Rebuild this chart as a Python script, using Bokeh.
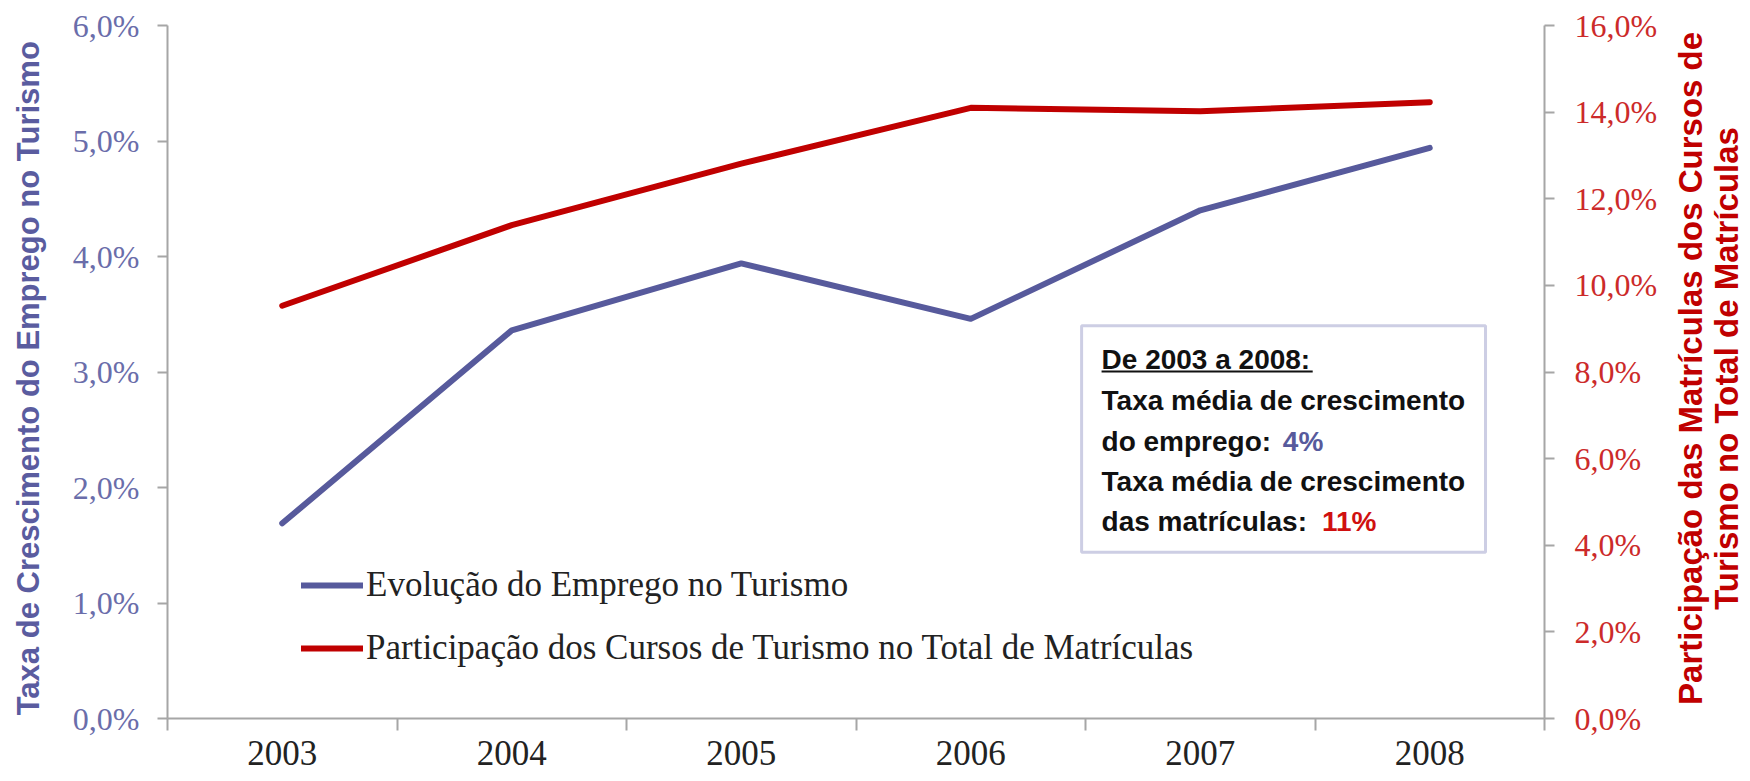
from bokeh.plotting import figure
from bokeh.layouts import row
from bokeh.models import (Range1d, LinearAxis, FixedTicker, Legend, LegendItem,
                          Label, BoxAnnotation, Arrow)
from bokeh.embed import file_html
from bokeh.resources import INLINE

# ---------------- data ----------------
years = ["2003", "2004", "2005", "2006", "2007", "2008"]
emprego = [1.69, 3.36, 3.94, 3.46, 4.40, 4.94]          # % (left axis)
matriculas = [9.53, 11.39, 12.81, 14.10, 14.02, 14.23]  # % (right axis)
left_ticks = [0, 1, 2, 3, 4, 5, 6]
left_labels = ["0,0%", "1,0%", "2,0%", "3,0%", "4,0%", "5,0%", "6,0%"]
right_ticks = [0, 2, 4, 6, 8, 10, 12, 14, 16]
right_labels = ["0,0%", "2,0%", "4,0%", "6,0%", "8,0%", "10,0%", "12,0%", "14,0%", "16,0%"]
legend_labels = ["Evolução do Emprego no Turismo",
                 "Participação dos Cursos de Turismo no Total de Matrículas"]
left_title = "Taxa de Crescimento do Emprego no Turismo"
right_title_lines = ["Participação das Matrículas dos Cursos de",
                     "Turismo no Total de Matrículas"]
box_title = "De 2003 a 2008:"
box_lines = ["Taxa média de crescimento", "do emprego: ", "Taxa média de crescimento",
             "das matrículas: "]
box_values = ["4%", "11%"]

BLUE = "#575A9C"
RED = "#C00000"
GRID = "#BFBFBF"
AXIS = "#A6A6A6"
H = 780

xpos = [i + 0.5 for i in range(len(years))]
bounds = list(range(len(years) + 1))


def side_panel(width):
    f = figure(width=width, height=H, output_backend="svg", toolbar_location=None,
               x_range=Range1d(0, width), y_range=Range1d(0, H),
               min_border=0, x_axis_type=None, y_axis_type=None)
    f.outline_line_color = None
    f.xgrid.grid_line_color = None
    f.ygrid.grid_line_color = None
    return f


# left title panel
p0 = side_panel(56)
p0.add_layout(Label(x=28, y=H - 397, text=left_title, text_font="Liberation Sans",
                    text_font_style="bold", text_font_size="31px",
                    text_color="#5A5C9F", angle=90, angle_units="deg",
                    text_align="center", text_baseline="middle"))

# main chart
p = figure(width=1604, height=H, output_backend="svg", toolbar_location=None,
           x_range=Range1d(0, len(years)), y_range=Range1d(0, 6),
           min_border_left=111, min_border_right=112, min_border_top=25,
           min_border_bottom=62, x_axis_type=None, y_axis_type=None)
p.outline_line_color = None
p.extra_y_ranges = {"right": Range1d(0, 16)}

# x axis
xaxis = LinearAxis(ticker=FixedTicker(ticks=xpos, minor_ticks=bounds),
                   major_label_overrides={xv: y for xv, y in zip(xpos, years)})
xaxis.major_tick_line_color = None
xaxis.minor_tick_out = 12
xaxis.minor_tick_in = 0
xaxis.minor_tick_line_color = AXIS
xaxis.minor_tick_line_width = 2
xaxis.axis_line_color = AXIS
xaxis.axis_line_width = 2
xaxis.major_label_standoff = 10
xaxis.major_label_text_font = "Liberation Serif"
xaxis.major_label_text_font_size = "35px"
xaxis.major_label_text_color = "#222222"
p.add_layout(xaxis, "below")

# left axis
yaxis = LinearAxis(ticker=FixedTicker(ticks=left_ticks, minor_ticks=[]),
                   major_label_overrides=dict(zip(left_ticks, left_labels)))
yaxis.major_tick_out = 10
yaxis.major_tick_in = 0
yaxis.major_tick_line_color = AXIS
yaxis.major_tick_line_width = 2
yaxis.axis_line_color = AXIS
yaxis.axis_line_width = 2
yaxis.major_label_standoff = 18
yaxis.major_label_text_font = "Liberation Serif"
yaxis.major_label_text_font_size = "32px"
yaxis.major_label_text_color = "#6A6DAA"
p.add_layout(yaxis, "left")

# right axis
raxis = LinearAxis(y_range_name="right",
                   ticker=FixedTicker(ticks=right_ticks, minor_ticks=[]),
                   major_label_overrides=dict(zip(right_ticks, right_labels)))
raxis.major_tick_out = 10
raxis.major_tick_in = 0
raxis.major_tick_line_color = AXIS
raxis.major_tick_line_width = 2
raxis.axis_line_color = AXIS
raxis.axis_line_width = 2
raxis.major_label_standoff = 20
raxis.major_label_text_font = "Liberation Serif"
raxis.major_label_text_font_size = "32px"
raxis.major_label_text_color = "#CC2A2A"
p.add_layout(raxis, "right")

p.ygrid.ticker = yaxis.ticker
p.ygrid.grid_line_color = GRID
p.ygrid.grid_line_width = 2
p.xgrid.grid_line_color = None

# lines
r1 = p.line(xpos, emprego, line_color=BLUE, line_width=6, line_cap="round",
            line_join="round")
r2 = p.line(xpos, matriculas, y_range_name="right", line_color=RED, line_width=6,
            line_cap="round", line_join="round")

legend = Legend(items=[LegendItem(label=legend_labels[0], renderers=[r1]),
                       LegendItem(label=legend_labels[1], renderers=[r2])],
                location=(134, 50), padding=0, margin=0, spacing=23,
                glyph_width=62, glyph_height=40, label_height=40, label_standoff=3,
                border_line_color=None, background_fill_alpha=0,
                label_text_font="Liberation Serif", label_text_font_size="35px",
                label_text_color="#222222")
p.add_layout(legend)

# annotation box (layout positions in axis units)
box = BoxAnnotation(left=3.983, right=5.743, top=3.40, bottom=1.44,
                    fill_color="white", fill_alpha=1.0,
                    line_color="#5B5EA6", line_width=3, level="annotation")
p.add_layout(box)

tx = 4.07
line_y = [3.105, 2.749, 2.402, 2.055, 1.709]
common = dict(text_font="Liberation Sans", text_font_style="bold",
              text_font_size="28px", text_baseline="middle", text_align="left")
p.add_layout(Label(x=tx, y=line_y[0], text=box_title, text_color="#111111", **common))
for txt, yy in zip(box_lines, line_y[1:]):
    p.add_layout(Label(x=tx, y=yy, text=txt, text_color="#111111", **common))
p.add_layout(Label(x=4.86, y=line_y[2], text=box_values[0], text_color=BLUE, **common))
p.add_layout(Label(x=5.03, y=line_y[4], text=box_values[1], text_color="#D01010", **common))
p.add_layout(Arrow(start=None, end=None, x_start=tx, x_end=4.99, y_start=3.005,
                   y_end=3.005, line_color="#111111", line_width=2))

# right title panel
p2 = side_panel(88)
rt_common = dict(text_font="Liberation Sans", text_font_style="bold",
                 text_font_size="33px", text_color=RED, angle=90, angle_units="deg",
                 text_align="center", text_baseline="middle")
p2.add_layout(Label(x=30, y=H - 386, text=right_title_lines[0], **rt_common))
p2.add_layout(Label(x=66, y=H - 386, text=right_title_lines[1], **rt_common))

layout = row(p0, p, p2, spacing=0)
open("out.html", "w").write(file_html(layout, INLINE))
